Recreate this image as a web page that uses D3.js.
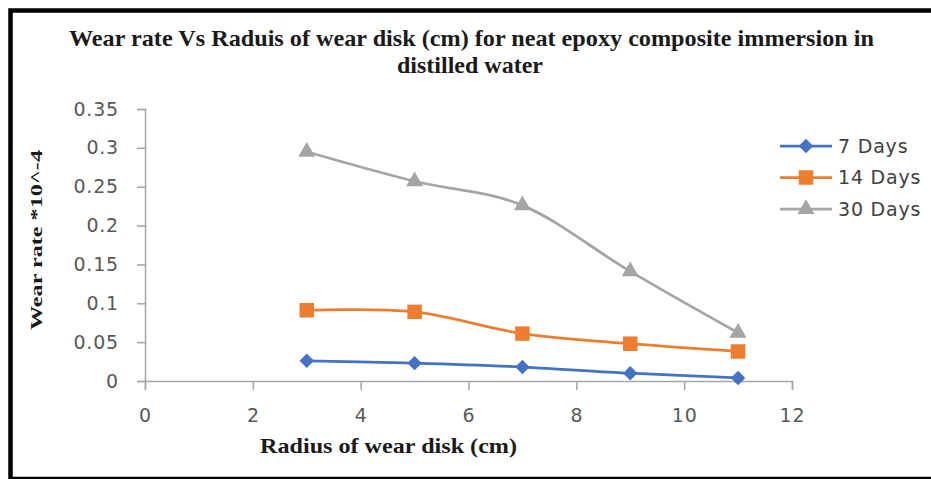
<!DOCTYPE html>
<html>
<head>
<meta charset="utf-8">
<script src="https://cdn.jsdelivr.net/npm/d3@7"></script>
<style>
	body { margin: 0; background: #fff; }
	.tick text { font-family: 'DejaVu Sans', sans-serif; font-size: 19px; fill: #595959; letter-spacing: 0.8px; }
	.tick line, .domain { stroke: #a6a6a6; stroke-width: 1.5; }
	.title { font-family: 'Liberation Serif', serif; font-weight: bold; fill: #1a1a1a; }
	.legend-label { font-family: 'DejaVu Sans', sans-serif; font-size: 19px; fill: #404040; letter-spacing: 0.8px; }
</style>
</head>
<body>
<div id="chart"></div>
<script>
var radius = [3, 5, 7, 9, 11]
var days7 = [0.026, 0.023, 0.018, 0.010, 0.004]
var days14 = [0.091, 0.089, 0.061, 0.048, 0.038]
var days30 = [0.295, 0.257, 0.226, 0.141, 0.062]
var seriesNames = ['7 Days', '14 Days', '30 Days']
var xTicks = [0, 2, 4, 6, 8, 10, 12]
var yTicks = [0, 0.05, 0.1, 0.15, 0.2, 0.25, 0.3, 0.35]
var yTickLabels = ['0', '0.05', '0.1', '0.15', '0.2', '0.25', '0.3', '0.35']

var width = 931
var height = 479

var svg = d3.select('#chart').append('svg')
	.attr('width', width)
	.attr('height', height)

// outer frame, right side runs off the picture
svg.append('rect')
	.attr('x', 10.5)
	.attr('y', 10.5)
	.attr('width', 1000)
	.attr('height', 468.5)
	.attr('fill', 'none')
	.attr('stroke', '#000')
	.attr('stroke-width', 4.5)

var xScale = d3.scaleLinear()
	.domain([0, 12])
	.range([145, 792])

var yScale = d3.scaleLinear()
	.domain([0, 0.35])
	.range([381, 109])

svg.append('g')
	.attr('transform', 'translate(145,0)')
	.call(
		d3.axisLeft(yScale)
			.tickValues(yTicks)
			.tickSize(8)
			.tickPadding(18)
			.tickFormat(function(d, i) { return yTickLabels[i] })
	)

svg.append('g')
	.attr('transform', 'translate(0,381)')
	.call(
		d3.axisBottom(xScale)
			.tickValues(xTicks)
			.tickSize(9)
			.tickPadding(19)
			.tickFormat(d3.format('d'))
	)

// titles
svg.append('text')
	.attr('class', 'title')
	.attr('x', 471.5)
	.attr('y', 46)
	.attr('text-anchor', 'middle')
	.attr('font-size', 24)
	.attr('textLength', 805)
	.attr('lengthAdjust', 'spacingAndGlyphs')
	.text('Wear rate Vs Raduis of wear disk (cm)  for neat epoxy composite immersion in')

svg.append('text')
	.attr('class', 'title')
	.attr('x', 470)
	.attr('y', 73)
	.attr('text-anchor', 'middle')
	.attr('font-size', 24)
	.attr('textLength', 146)
	.attr('lengthAdjust', 'spacingAndGlyphs')
	.text('distilled water')

svg.append('text')
	.attr('class', 'title')
	.attr('x', 388.5)
	.attr('y', 453)
	.attr('text-anchor', 'middle')
	.attr('font-size', 22)
	.attr('textLength', 257)
	.attr('lengthAdjust', 'spacingAndGlyphs')
	.text('Radius of wear disk (cm)')

svg.append('text')
	.attr('class', 'title')
	.attr('transform', 'translate(42,240) rotate(-90)')
	.attr('text-anchor', 'middle')
	.attr('font-size', 17)
	.attr('textLength', 180)
	.attr('lengthAdjust', 'spacingAndGlyphs')
	.text('Wear rate *10^-4')

var series = [
	{ name: seriesNames[0], values: days7, color: '#4472c4', symbol: d3.symbolSquare, size: 105, rotate: 45 },
	{ name: seriesNames[1], values: days14, color: '#ed7d31', symbol: d3.symbolSquare, size: 210, rotate: 0 },
	{ name: seriesNames[2], values: days30, color: '#a5a5a5', symbol: d3.symbolTriangle, size: 125, rotate: 0 }
]

var line = d3.line()
	.x(function(d) { return xScale(d[0]) })
	.y(function(d) { return yScale(d[1]) })
	.curve(d3.curveCatmullRom.alpha(0))

series.forEach(function(s) {
	var pts = radius.map(function(r, i) { return [r, s.values[i]] })
	var g = svg.append('g')

	g.append('path')
		.attr('d', line(pts))
		.attr('fill', 'none')
		.attr('stroke', s.color)
		.attr('stroke-width', 2.75)

	g.selectAll('path.marker')
		.data(pts)
		.enter().append('path')
		.attr('class', 'marker')
		.attr('d', d3.symbol().type(s.symbol).size(s.size))
		.attr('transform', function(d) {
			return 'translate(' + xScale(d[0]) + ',' + yScale(d[1]) + ') rotate(' + s.rotate + ')'
		})
		.attr('fill', s.color)
})

// legend
var legend = svg.append('g')
var legendY = [146, 177.5, 209]

series.forEach(function(s, i) {
	var row = legend.append('g')
		.attr('transform', 'translate(0,' + legendY[i] + ')')

	row.append('line')
		.attr('x1', 780)
		.attr('x2', 832)
		.attr('stroke', s.color)
		.attr('stroke-width', 2.75)

	row.append('path')
		.attr('d', d3.symbol().type(s.symbol).size(s.size))
		.attr('transform', 'translate(806,0) rotate(' + s.rotate + ')')
		.attr('fill', s.color)

	row.append('text')
		.attr('class', 'legend-label')
		.attr('x', 838)
		.attr('dy', '0.35em')
		.text(s.name)
})
</script>
</body>
</html>
